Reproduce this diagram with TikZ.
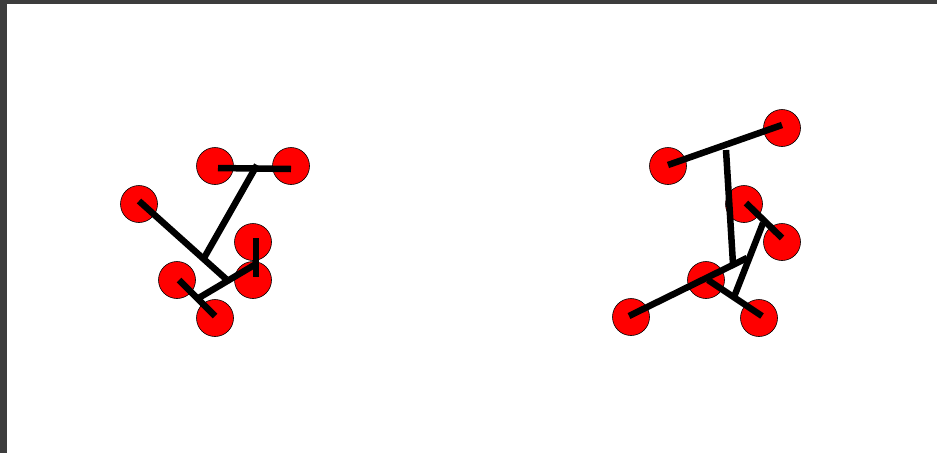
\documentclass[tikz,border=0pt]{standalone}
\usepackage{tikz}
\usetikzlibrary{positioning}

\begin{document}
\begin{tikzpicture}[
  x=1pt,y=-1pt,
  leaf/.style={circle,draw=black,fill=red,line width=0.6pt,minimum size=37pt,inner sep=0pt},
  link/.style={line width=6.5pt,black},
]
  % window frame
  \fill[black!76] (0,0) rectangle (937,453);
  \fill[white] (7,4) rectangle (937,453);
  \useasboundingbox (0,0) rectangle (937,453);

  % left tree
  \node[leaf] (A) at (215,166) {};
  \node[leaf] (B) at (291,166) {};
  \node[leaf] (C) at (139,204) {};
  \node[leaf] (D) at (253,242) {};
  \node[leaf] (E) at (177,280) {};
  \node[leaf] (F) at (253,280) {};
  \node[leaf] (G) at (215,318) {};
  \coordinate (jAB) at (257,165);
  \coordinate (jDF) at (256,264);
  \coordinate (jEG) at (197,299);
  \coordinate (jDG) at (226,279);
  \coordinate (jC)  at (204,258);

  \draw[link] ([xshift=3pt,yshift=-2pt]A.center) -- ([yshift=-3pt]B.center);
  \draw[link] ([xshift=3pt,yshift=4pt]D.center) -- ([xshift=3pt,yshift=3pt]F.center);
  \draw[link] ([xshift=2pt]E.center) -- ([yshift=2pt]G.center);
  \draw[link] (jDF) -- (jEG);
  \draw[link] ([yshift=3pt]C.center) -- (jDG);
  \draw[link] (jAB) -- (jC);

  % right tree
  \node[leaf] (P) at (668,166) {};
  \node[leaf] (Q) at (782,128) {};
  \node[leaf] (R) at (744,204) {};
  \node[leaf] (S) at (782,242) {};
  \node[leaf] (T) at (706,280) {};
  \node[leaf] (U) at (631,317) {};
  \node[leaf] (V) at (759,318) {};
  \coordinate (jPQ) at (726,150);
  \coordinate (jRS) at (763,223);
  \coordinate (jTV) at (734,297);
  \coordinate (jRV) at (747,258);
  \coordinate (jU)  at (733,264);

  \draw[link] ([yshift=1pt]P.center) -- ([yshift=3pt]Q.center);
  \draw[link] ([xshift=2pt,yshift=1pt]R.center) -- ([yshift=4pt]S.center);
  \draw[link] ([xshift=2pt]T.center) -- ([xshift=3pt,yshift=2pt]V.center);
  \draw[link] (jRS) -- (jTV);
  \draw[link] ([xshift=-2pt,yshift=1pt]U.center) -- (jRV);
  \draw[link] (jPQ) -- (jU);
\end{tikzpicture}
\end{document}
